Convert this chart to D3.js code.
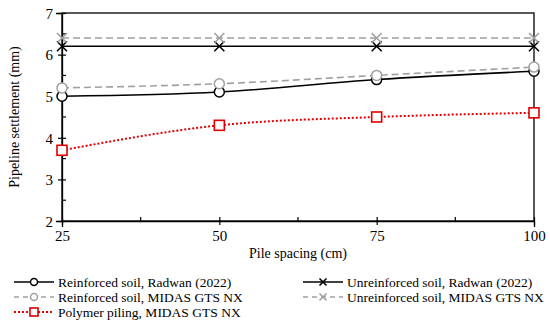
<!DOCTYPE html>
<html>
<head>
<meta charset="utf-8">
<script src="https://cdn.jsdelivr.net/npm/d3@7"></script>
</head>
<body style="margin:0; background:#fff">
<script>
// data
const spacing = [25, 50, 75, 100];
const reinforcedRadwan = [5.0, 5.1, 5.4, 5.6];
const unreinforcedRadwan = [6.2, 6.2, 6.2, 6.2];
const reinforcedMidas = [5.2, 5.3, 5.5, 5.7];
const unreinforcedMidas = [6.4, 6.4, 6.4, 6.4];
const polymerMidas = [3.7, 4.3, 4.5, 4.6];
const xTicks = [25, 50, 75, 100];
const yTicks = [2, 3, 4, 5, 6, 7];

const FONT = "Liberation Serif";
const width = 550, height = 325;
const margin = {left: 62, right: 16, top: 13, bottom: 104};
const plotW = width - margin.left - margin.right;
const plotH = height - margin.top - margin.bottom;

const svg = d3.select("body").append("svg")
    .attr("width", width)
    .attr("height", height)
    .attr("font-family", FONT)
    .style("font-family", FONT);

const g = svg.append("g")
    .attr("transform", `translate(${margin.left}, ${margin.top})`);

const x = d3.scaleLinear().domain([25, 100]).range([0, plotW]);
const y = d3.scaleLinear().domain([2, 7]).range([plotH, 0]);

// frame
g.append("rect")
    .attr("width", plotW).attr("height", plotH)
    .attr("fill", "none").attr("stroke", "#000").attr("stroke-width", 1.3);

// minor ticks (inside)
const xMinor = [37.5, 62.5, 87.5];
g.selectAll(".xminor").data(xMinor).enter().append("line")
    .attr("x1", d => x(d)).attr("x2", d => x(d))
    .attr("y1", plotH).attr("y2", plotH - 4)
    .attr("stroke", "#000").attr("stroke-width", 1.2);
const yMinor = [2.5, 3.5, 4.5, 5.5, 6.5];
g.selectAll(".yminor").data(yMinor).enter().append("line")
    .attr("x1", 0).attr("x2", 4)
    .attr("y1", d => y(d)).attr("y2", d => y(d))
    .attr("stroke", "#000").attr("stroke-width", 1.2);

// axes: major ticks cross the axis line
const xAxis = g.append("g")
    .attr("transform", `translate(0, ${plotH})`)
    .call(d3.axisBottom(x).tickValues(xTicks).tickFormat(d3.format("d")).tickSizeInner(-4).tickPadding(9));
xAxis.selectAll(".tick line").attr("y1", 4).attr("y2", -4);
const yAxis = g.append("g")
    .call(d3.axisLeft(y).tickValues(yTicks).tickFormat(d3.format("d")).tickSizeInner(-4).tickPadding(9));
yAxis.selectAll(".tick line").attr("x1", -4).attr("x2", 4);
[xAxis, yAxis].forEach(a => {
    a.attr("font-family", FONT).attr("font-size", 15);
    a.select(".domain").attr("stroke", "#000").attr("stroke-width", 1.3);
    a.selectAll(".tick line").attr("stroke", "#000").attr("stroke-width", 1.2);
    a.selectAll(".tick text").attr("fill", "#000");
});
yAxis.selectAll(".tick text").attr("dy", "0.35em");

// axis titles
svg.append("text")
    .attr("x", margin.left + plotW / 2)
    .attr("y", 258)
    .attr("text-anchor", "middle")
    .attr("font-size", 14)
    .text("Pile spacing (cm)");
svg.append("text")
    .attr("transform", `translate(19, ${margin.top + plotH / 2}) rotate(-90)`)
    .attr("text-anchor", "middle")
    .attr("font-size", 14)
    .text("Pipeline settlement (mm)");

// series
const series = [
    {name: "Reinforced soil, Radwan (2022)", values: reinforcedRadwan, color: "#000", dash: null, marker: "circle"},
    {name: "Unreinforced soil, Radwan (2022)", values: unreinforcedRadwan, color: "#000", dash: null, marker: "cross"},
    {name: "Reinforced soil, MIDAS GTS NX", values: reinforcedMidas, color: "#a0a0a0", dash: "7,4", marker: "circle"},
    {name: "Unreinforced soil, MIDAS GTS NX", values: unreinforcedMidas, color: "#a0a0a0", dash: "7,4", marker: "cross"},
    {name: "Polymer piling, MIDAS GTS NX", values: polymerMidas, color: "#e00000", dash: "2,2", marker: "square"}
];

const line = d3.line()
    .x(d => x(d[0]))
    .y(d => y(d[1]))
    .curve(d3.curveMonotoneX);

function drawMarker(sel, type, color, size) {
    if (type === "circle") {
        sel.append("circle").attr("r", size).attr("fill", "#fff")
            .attr("stroke", color).attr("stroke-width", 1.5);
    } else if (type === "cross") {
        const s = size;
        sel.append("path").attr("d", `M${-s},${-s}L${s},${s}M${-s},${s}L${s},${-s}`)
            .attr("stroke", color).attr("stroke-width", 1.6).attr("fill", "none");
    } else {
        const s = size;
        sel.append("rect").attr("x", -s).attr("y", -s).attr("width", 2 * s).attr("height", 2 * s)
            .attr("fill", "#fff").attr("stroke", color).attr("stroke-width", 1.6);
    }
}

series.forEach(s => {
    const pts = spacing.map((d, i) => [d, s.values[i]]);
    g.append("path")
        .attr("d", line(pts))
        .attr("fill", "none")
        .attr("stroke", s.color)
        .attr("stroke-width", s.marker === "square" ? 2 : 1.6)
        .attr("stroke-dasharray", s.dash);
    pts.forEach(p => {
        const m = g.append("g").attr("transform", `translate(${x(p[0])}, ${y(p[1])})`);
        drawMarker(m, s.marker, s.color, 5);
    });
});

// legend
const legendPos = [
    {x: 14, y: 282}, {x: 303, y: 282},
    {x: 14, y: 297}, {x: 303, y: 297},
    {x: 14, y: 312}
];
series.forEach((s, i) => {
    const p = legendPos[i];
    const lg = svg.append("g").attr("transform", `translate(${p.x}, ${p.y})`);
    lg.append("line")
        .attr("x1", 0).attr("x2", 40).attr("y1", 0).attr("y2", 0)
        .attr("stroke", s.color)
        .attr("stroke-width", s.marker === "square" ? 2 : 1.6)
        .attr("stroke-dasharray", s.marker === "square" ? s.dash : (s.dash ? "5,4" : null));
    const m = lg.append("g").attr("transform", "translate(20, 0)");
    drawMarker(m, s.marker, s.color, s.marker === "square" ? 4 : 3.5);
    lg.append("text")
        .attr("x", 44).attr("y", 0).attr("dy", "0.35em")
        .attr("font-size", 13.5)
        .text(s.name);
});
</script>
</body>
</html>
